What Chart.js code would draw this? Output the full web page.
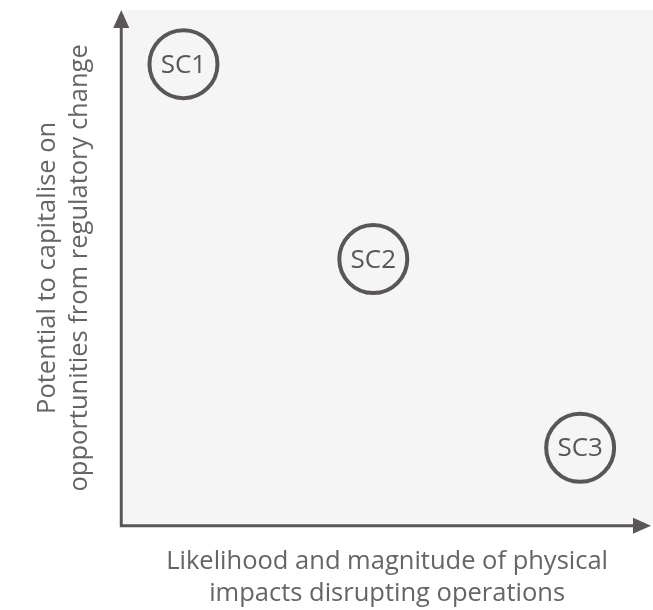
<!DOCTYPE html>
<html>
<head>
<meta charset="utf-8">
<script src="https://cdn.jsdelivr.net/npm/chart.js@4"></script>
<style>
    html, body { margin: 0; padding: 0; background: #ffffff; }
    #wrap { width: 653px; height: 610px; position: relative; }
</style>
</head>
<body>
<div id="wrap"><canvas id="chart"></canvas></div>
<script>
const scenarioLabels = ["SC1", "SC2", "SC3"];
const physicalImpact = [1.17, 4.74, 8.63];
const regulatoryOpportunity = [8.95, 5.17, 1.51];
const xTitle = ["Likelihood and magnitude of physical", "impacts disrupting operations"];
const yTitle = ["Potential to capitalise on", "opportunities from regulatory change"];

const INK = "#5a5656";
const TEXT = "#666464";

/* ------------------- plugins ------------------ */

const backdrop = {
    id: "backdrop",
    beforeDraw(chart) {
        const { ctx, chartArea: a } = chart;
        ctx.save();
        ctx.fillStyle = "#f5f5f5";
        ctx.fillRect(a.left + 2, a.top, chart.width - a.left - 2, a.bottom - a.top - 2);
        ctx.restore();
    }
};

const arrowAxes = {
    id: "arrowAxes",
    afterDraw(chart) {
        const { ctx, chartArea: a } = chart;
        const right = chart.width - 2;
        ctx.save();
        ctx.strokeStyle = INK;
        ctx.fillStyle = INK;
        ctx.lineWidth = 3;
        ctx.beginPath();
        ctx.moveTo(a.left, a.top + 14);
        ctx.lineTo(a.left, a.bottom);
        ctx.lineTo(right - 14, a.bottom);
        ctx.stroke();
        // y arrow head
        ctx.beginPath();
        ctx.moveTo(a.left, a.top);
        ctx.lineTo(a.left - 8, a.top + 18);
        ctx.lineTo(a.left + 8, a.top + 18);
        ctx.closePath();
        ctx.fill();
        // x arrow head
        ctx.beginPath();
        ctx.moveTo(right, a.bottom);
        ctx.lineTo(right - 18, a.bottom - 8);
        ctx.lineTo(right - 18, a.bottom + 8);
        ctx.closePath();
        ctx.fill();
        ctx.restore();
    }
};

const pointLabels = {
    id: "pointLabels",
    afterDatasetsDraw(chart) {
        const { ctx } = chart;
        const meta = chart.getDatasetMeta(0);
        ctx.save();
        ctx.fillStyle = INK;
        ctx.font = "26px 'Open Sans'";
        ctx.textAlign = "center";
        ctx.textBaseline = "middle";
        meta.data.forEach((pt, i) => {
            ctx.fillText(scenarioLabels[i], pt.x, pt.y + 1);
        });
        ctx.restore();
    }
};

/* ------------------- chart ------------------ */

const points = physicalImpact.map((x, i) => ({ x, y: regulatoryOpportunity[i] }));

new Chart(document.getElementById("chart"), {
    type: "scatter",
    data: {
        datasets: [{
            data: points,
            pointRadius: 34,
            pointHoverRadius: 34,
            pointBorderWidth: 4,
            pointBorderColor: INK,
            pointBackgroundColor: "rgba(0,0,0,0)"
        }]
    },
    options: {
        responsive: true,
        maintainAspectRatio: false,
        animation: false,
        layout: { autoPadding: false, padding: { left: 20, top: 10, right: 0, bottom: 0 } },
        plugins: {
            legend: { display: false },
            tooltip: { enabled: false }
        },
        scales: {
            x: {
                min: 0,
                max: 10,
                ticks: { display: false },
                grid: { display: false, drawTicks: false },
                border: { display: false },
                title: {
                    display: true,
                    text: xTitle,
                    color: TEXT,
                    font: { family: "'Open Sans'", size: 25.5, lineHeight: 1.26 },
                    padding: { top: 20, bottom: 0 }
                }
            },
            y: {
                min: 0,
                max: 10,
                ticks: { display: false },
                grid: { display: false, drawTicks: false },
                border: { display: false },
                title: {
                    display: true,
                    text: yTitle,
                    color: TEXT,
                    font: { family: "'Open Sans'", size: 25.5, lineHeight: 1.26 },
                    padding: { top: 12, bottom: 25 }
                }
            }
        }
    },
    plugins: [backdrop, arrowAxes, pointLabels]
});
</script>
</body>
</html>
